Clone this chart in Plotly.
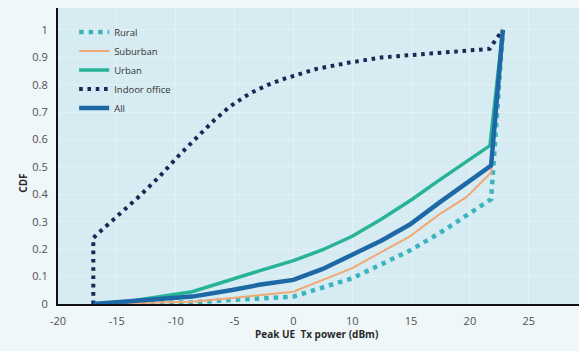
import plotly.graph_objects as go

# x values are in axis units where the tick labelled "-20" is -20 (ticks every 5)
rural_x = [-17, -14.2, -8.6, -5.2, 0, 5, 9.9, 12.4, 15, 16.8, 17.8]
rural_y = [0, 0.001, 0.006, 0.015, 0.027, 0.094, 0.195, 0.258, 0.33, 0.382, 1.0]

suburban_x = [-17, -14.2, -8.6, -5.2, 0, 5, 9.9, 12.4, 14.7, 16.8, 17.8]
suburban_y = [0, 0.002, 0.008, 0.022, 0.045, 0.131, 0.247, 0.327, 0.39, 0.48, 1.0]

urban_x = [-17, -14.2, -8.6, -5.2, -2.9, 0, 2.5, 5, 7.5, 10.1, 12.4, 16.7, 17.8]
urban_y = [0, 0.008, 0.045, 0.092, 0.121, 0.158, 0.198, 0.247, 0.31, 0.382, 0.452, 0.578, 1.0]

indoor_x = [-17, -17, -16.46, -14.76, -13.06, -11.36, -9.66, -7.96, -6.69, -5.41,
            -3.71, -2.3, -0.91, 1.98, 4.78, 7.59, 13.28, 16.68, 17.19, 17.78]
indoor_y = [0, 0.241, 0.263, 0.328, 0.394, 0.466, 0.545, 0.618, 0.672, 0.72,
            0.768, 0.797, 0.82, 0.858, 0.881, 0.9, 0.92, 0.931, 0.964, 1.0]

all_x = [-17, -14.2, -8.6, -5.2, -2.9, 0, 2.5, 5, 7.5, 9.9, 12.4, 16.8, 17.8]
all_y = [0, 0.008, 0.027, 0.051, 0.07, 0.088, 0.128, 0.18, 0.232, 0.29, 0.37, 0.505, 1.0]

x_tickvals = [-20, -15, -10, -5, 0, 5, 10, 15, 20]
x_ticktext = ["-20", "-15", "-10", "-5", "0", "10", "15", "20", "25"]
y_tickvals = [0, 0.1, 0.2, 0.3, 0.4, 0.5, 0.6, 0.7, 0.8, 0.9, 1]
y_ticktext = ["0", "0.1", "0.2", "0.3", "0.4", "0.5", "0.6", "0.7", "0.8", "0.9", "1"]

fig = go.Figure()
fig.add_trace(go.Scatter(x=rural_x, y=rural_y, name="Rural", mode="lines",
                         line=dict(color="#3cb4c0", width=4.5, dash="4.5px,5px")))
fig.add_trace(go.Scatter(x=suburban_x, y=suburban_y, name="Suburban", mode="lines",
                         line=dict(color="#f2a874", width=2)))
fig.add_trace(go.Scatter(x=urban_x, y=urban_y, name="Urban", mode="lines",
                         line=dict(color="#27b396", width=3.5)))
fig.add_trace(go.Scatter(x=indoor_x, y=indoor_y, name="Indoor office", mode="lines",
                         line=dict(color="#1d2656", width=4, dash="3.6px,4.7px")))
fig.add_trace(go.Scatter(x=all_x, y=all_y, name="All", mode="lines",
                         line=dict(color="#1f68a6", width=4.5)))

font_family = "Open Sans"
fig.update_layout(
    width=579, height=351,
    margin=dict(l=58, r=0, t=8, b=47),
    paper_bgcolor="#eff7f9",
    plot_bgcolor="#d6ecf2",
    font=dict(family=font_family, color="#4f4f4f", size=11),
    showlegend=True,
    legend=dict(x=0.031, y=0.968, xanchor="left", yanchor="top",
                bgcolor="rgba(0,0,0,0)", font=dict(size=9.5, color="#333333"),
                tracegroupgap=0),
    xaxis=dict(range=[-20, 24.27], tickvals=x_tickvals, ticktext=x_ticktext,
               showline=True, linecolor="#111111", linewidth=2,
               showgrid=True, gridcolor="#e3f1f4", gridwidth=1,
               zeroline=False, ticks="", ticklabelstandoff=6),
    yaxis=dict(range=[0, 1.08], tickvals=y_tickvals, ticktext=y_ticktext,
               showline=True, linecolor="#111111", linewidth=2,
               showgrid=True, gridcolor="#e3f1f4", gridwidth=1,
               zeroline=False, ticks="", ticklabelstandoff=6),
    annotations=[
        dict(text="<b>Peak UE  Tx power (dBm)</b>", x=0.497, y=-0.132,
             xref="paper", yref="paper", showarrow=False,
             font=dict(size=10, color="#2a2a2a", family=font_family)),
        dict(text="<b>CDF</b>", x=-0.085, y=0.409, textangle=-90,
             xref="paper", yref="paper", showarrow=False,
             font=dict(size=10, color="#2a2a2a", family=font_family)),
    ],
)

fig.write_html("out.html",
               config={"displayModeBar": False},
               post_script="document.body.style.margin='0';document.body.style.background='#eff7f9';")
